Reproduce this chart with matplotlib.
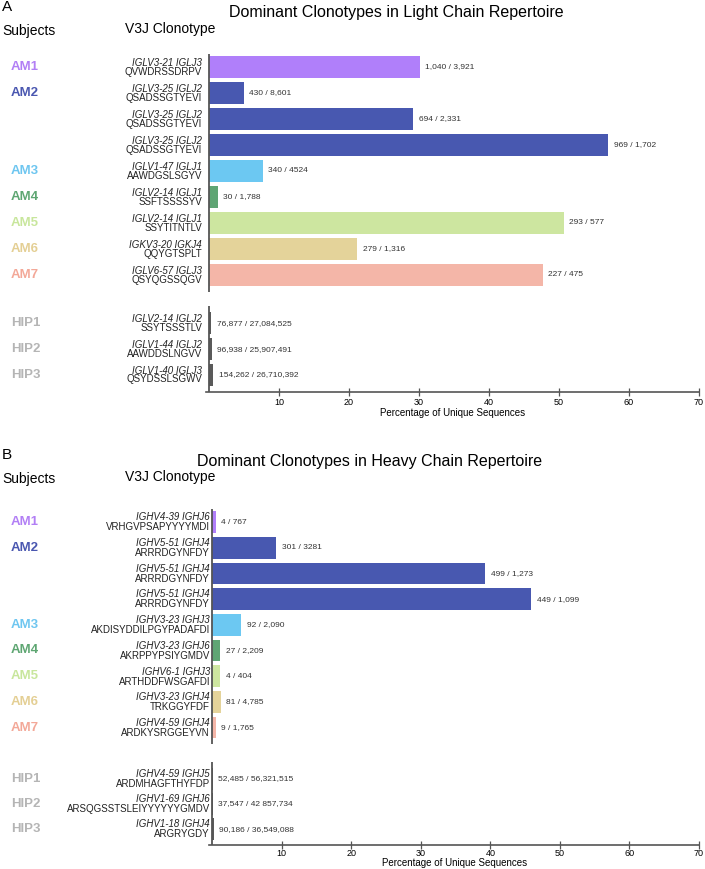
import matplotlib
matplotlib.use('Agg')
import matplotlib.pyplot as plt
from matplotlib.transforms import blended_transform_factory

plt.rcParams['font.family'] = ['Liberation Sans', 'DejaVu Sans']

# ---- data ----
light_subj = ['AM1', 'AM2', 'AM2', 'AM2', 'AM3', 'AM4', 'AM5', 'AM6', 'AM7', 'HIP1', 'HIP2', 'HIP3']
light_genes = ['IGLV3-21 IGLJ3', 'IGLV3-25 IGLJ2', 'IGLV3-25 IGLJ2', 'IGLV3-25 IGLJ2', 'IGLV1-47 IGLJ1',
               'IGLV2-14 IGLJ1', 'IGLV2-14 IGLJ1', 'IGKV3-20 IGKJ4', 'IGLV6-57 IGLJ3',
               'IGLV2-14 IGLJ2', 'IGLV1-44 IGLJ2', 'IGLV1-40 IGLJ3']
light_seqs = ['QVWDRSSDRPV', 'QSADSSGTYEVI', 'QSADSSGTYEVI', 'QSADSSGTYEVI', 'AAWDGSLSGYV',
              'SSFTSSSSYV', 'SSYTITNTLV', 'QQYGTSPLT', 'QSYQGSSQGV',
              'SSYTSSSTLV', 'AAWDDSLNGVV', 'QSYDSSLSGWV']
light_pct = [30.1, 4.95, 29.2, 57.0, 7.7, 1.25, 50.7, 21.2, 47.7, 0.28, 0.37, 0.58]
light_counts = ['1,040 / 3,921', '430 / 8,601', '694 / 2,331', '969 / 1,702', '340 / 4524',
                '30 / 1,788', '293 / 577', '279 / 1,316', '227 / 475',
                '76,877 / 27,084,525', '96,938 / 25,907,491', '154,262 / 26,710,392']

heavy_subj = light_subj
heavy_genes = ['IGHV4-39 IGHJ6', 'IGHV5-51 IGHJ4', 'IGHV5-51 IGHJ4', 'IGHV5-51 IGHJ4', 'IGHV3-23 IGHJ3',
               'IGHV3-23 IGHJ6', 'IGHV6-1 IGHJ3', 'IGHV3-23 IGHJ4', 'IGHV4-59 IGHJ4',
               'IGHV4-59 IGHJ5', 'IGHV1-69 IGHJ6', 'IGHV1-18 IGHJ4']
heavy_seqs = ['VRHGVPSAPYYYYMDI', 'ARRRDGYNFDY', 'ARRRDGYNFDY', 'ARRRDGYNFDY', 'AKDISYDDILPGYPADAFDI',
              'AKRPPYPSIYGMDV', 'ARTHDDFWSGAFDI', 'TRKGGYFDF', 'ARDKYSRGGEYVN',
              'ARDMHAGFTHYFDP', 'ARSQGSSTSLEIYYYYYYGMDV', 'ARGRYGDY']
heavy_pct = [0.52, 9.2, 39.3, 45.9, 4.2, 1.18, 1.15, 1.25, 0.52, 0.09, 0.09, 0.25]
heavy_counts = ['4 / 767', '301 / 3281', '499 / 1,273', '449 / 1,099', '92 / 2,090',
                '27 / 2,209', '4 / 404', '81 / 4,785', '9 / 1,765',
                '52,485 / 56,321,515', '37,547 / 42 857,734', '90,186 / 36,549,088']

bar_colors = {'AM1': '#b07ffa', 'AM2': '#4858b0', 'AM3': '#6cc8f2', 'AM4': '#5fa574',
              'AM5': '#cde6a0', 'AM6': '#e4d39a', 'AM7': '#f4b6a8'}
label_colors = {'AM1': '#b27ff5', 'AM2': '#4a57b0', 'AM3': '#6ec6f0', 'AM4': '#5ea672',
                'AM5': '#c8e69c', 'AM6': '#e4cf94', 'AM7': '#f3a898'}
hip_color = '#5a5a5a'
hip_label = '#b5b5b5'

W, H = 705, 869
fig = plt.figure(figsize=(W / 100, H / 100), dpi=100)


def panel(rect, subj, genes, seqs, pct, counts, hip_pos, ymax, lab_x, off1, off2, letter, y0,
          tpad, lpad):
    ax = fig.add_axes(rect)
    pos = list(range(9)) + hip_pos
    cols = [bar_colors.get(s, hip_color) for s in subj]
    ax.barh(pos, pct, height=0.84, color=cols)
    for p, v, c in zip(pos, pct, counts):
        ax.annotate(c, (v, p), xytext=(4, 0), textcoords='offset points',
                    va='center', ha='left', fontsize=6, color='#333333')
    ax.set_xlim(-0.4, 70)
    ax.set_ylim(ymax, -0.6)
    for s in ['left', 'top', 'right']:
        ax.spines[s].set_visible(False)
    ax.spines['bottom'].set_color('#555555')
    ax.spines['bottom'].set_linewidth(1.2)
    ax.vlines(0, -0.5, 8.65, color='#555555', lw=1.3)
    ax.vlines(0, hip_pos[0] - 0.65, ymax, color='#555555', lw=1.3)
    ax.set_xticks(range(10, 71, 10))
    ax.tick_params(axis='x', direction='inout', length=6, width=0.9, color='#555555',
                   labelsize=6.5, pad=tpad)
    ax.set_yticks([])
    ax.set_xlabel('Percentage of Unique Sequences', fontsize=7, labelpad=lpad)

    tr = blended_transform_factory(fig.transFigure, ax.transData)
    seen = set()
    for p, s, g, q in zip(pos, subj, genes, seqs):
        ax.text(lab_x, p + off1, g, transform=tr, ha='right', va='baseline',
                fontsize=7, style='italic', color='#222222')
        ax.text(lab_x, p + off2, q, transform=tr, ha='right', va='baseline',
                fontsize=7, color='#222222')
        if s not in seen:
            seen.add(s)
            ax.text(11 / W, p, s, transform=tr, ha='left', va='center', fontsize=9.5,
                    fontweight='bold', color=label_colors.get(s, hip_label))

    fig.text(2 / W, 1 - (y0 + 7) / H, letter, fontsize=11, va='center', ha='left')
    fig.text(2 / W, 1 - (y0 + 31) / H, 'Subjects', fontsize=10, va='center', ha='left')
    fig.text(125 / W, 1 - (y0 + 29) / H, 'V3J Clonotype', fontsize=10, va='center', ha='left')
    return ax


# panel A
panel([206.2 / W, 1 - 392 / H, 492.8 / W, 340.6 / H], light_subj, light_genes, light_seqs,
      light_pct, light_counts, [9.85, 10.85, 11.83], 12.5, 202 / W, -0.04, 0.29, 'A', 0, 1.5, 0.5)
fig.text(396 / W, 1 - 12 / H, 'Dominant Clonotypes in Light Chain Repertoire',
         fontsize=11.5, ha='center', va='center')

# panel B
panel([209.3 / W, 1 - 845 / H, 489.7 / W, 338.4 / H], heavy_subj, heavy_genes, heavy_seqs,
      heavy_pct, heavy_counts, [10.0, 10.97, 11.95], 12.57, 210 / W, -0.064, 0.325, 'B', 448,
      0, 0)
fig.text(370 / W, 1 - 462 / H, 'Dominant Clonotypes in Heavy Chain Repertoire',
         fontsize=11.5, ha='center', va='center')

fig.savefig('out.png', dpi=100)
